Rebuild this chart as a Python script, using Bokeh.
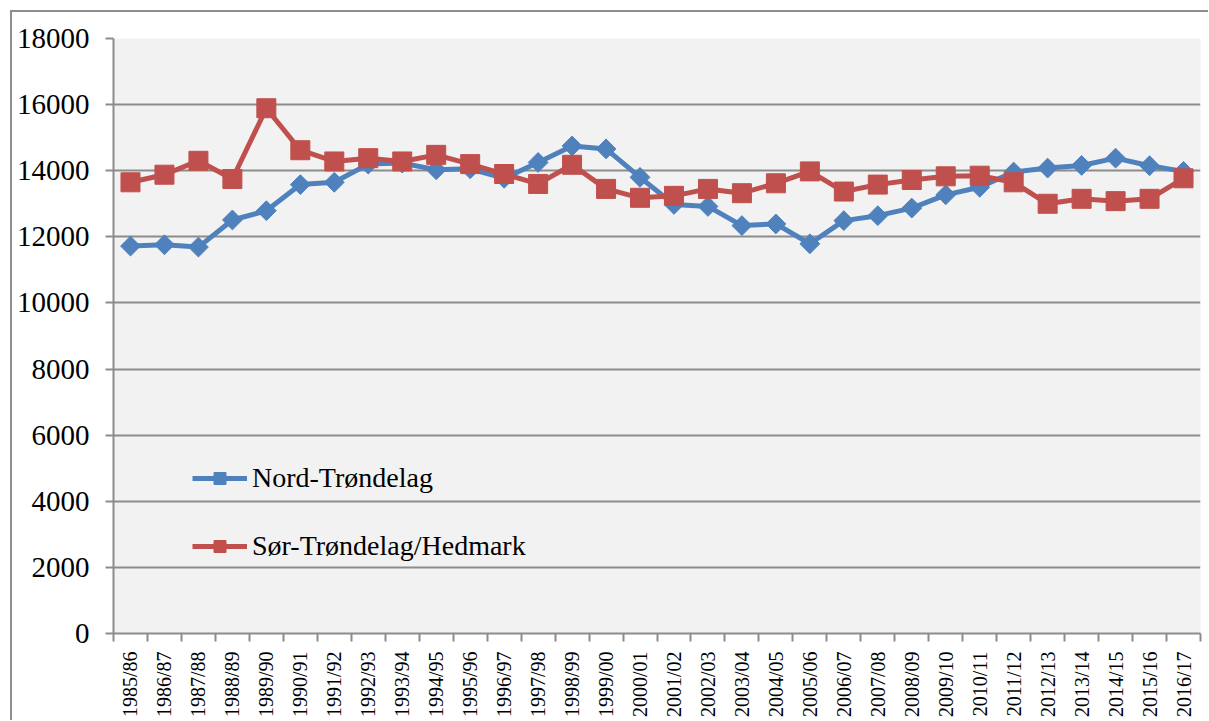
import math
from bokeh.plotting import figure
from bokeh.models import Range1d, FixedTicker, SingleIntervalTicker, Legend, LegendItem
from bokeh.embed import file_html
from bokeh.resources import INLINE

seasons = ["1985/86", "1986/87", "1987/88", "1988/89", "1989/90", "1990/91", "1991/92",
           "1992/93", "1993/94", "1994/95", "1995/96", "1996/97", "1997/98", "1998/99",
           "1999/00", "2000/01", "2001/02", "2002/03", "2003/04", "2004/05", "2005/06",
           "2006/07", "2007/08", "2008/09", "2009/10", "2010/11", "2011/12", "2012/13",
           "2013/14", "2014/15", "2015/16", "2016/17"]

nord_trondelag = [11720, 11760, 11690, 12510, 12790, 13580, 13650, 14200, 14230, 14030,
                  14060, 13770, 14250, 14750, 14660, 13800, 12980, 12920, 12340, 12390,
                  11790, 12490, 12640, 12870, 13270, 13500, 13960, 14080, 14160, 14380,
                  14150, 13980]

sor_trondelag_hedmark = [13650, 13880, 14300, 13750, 15890, 14620, 14280, 14380, 14280, 14480,
                         14200, 13900, 13600, 14180, 13450, 13180, 13240, 13450, 13320, 13620,
                         13980, 13370, 13580, 13720, 13830, 13850, 13650, 13000, 13150, 13080,
                         13150, 13770]

series_names = ["Nord-Trøndelag", "Sør-Trøndelag/Hedmark"]

BLUE = "#4F81BD"
RED = "#C0504D"
GRID = "#8C8C8C"
FONT = "'Liberation Serif', 'DejaVu Serif', serif"

x = list(range(len(seasons)))

p = figure(width=1208, height=720, output_backend="svg", toolbar_location=None,
           x_range=Range1d(-0.5, len(seasons) - 0.5), y_range=Range1d(0, 18000),
           min_border_left=113, min_border_top=38, min_border_right=8, min_border_bottom=85)

p.background_fill_color = "#F2F2F2"
p.border_fill_color = None
p.outline_line_color = None
p.styles = {"box-shadow": "inset 10px 10px 0 0 #ffffff, inset 12px 12px 0 0 #8E8E8E"}

# y axis
p.yaxis.ticker = SingleIntervalTicker(interval=2000, num_minor_ticks=0)
p.yaxis.axis_line_color = GRID
p.yaxis.axis_line_width = 2
p.yaxis.major_tick_line_color = GRID
p.yaxis.major_tick_line_width = 2
p.yaxis.major_tick_out = 8
p.yaxis.major_tick_in = 0
p.yaxis.minor_tick_line_color = None
p.yaxis.major_label_text_font = FONT
p.yaxis.major_label_text_font_size = "29px"
p.yaxis.major_label_text_color = "#000000"
p.yaxis.major_label_standoff = 16

# x axis: labels at category centres, ticks between categories
p.xaxis.ticker = FixedTicker(ticks=x, minor_ticks=[i - 0.5 for i in range(len(seasons) + 1)])
p.xaxis.major_label_overrides = {i: s for i, s in zip(x, seasons)}
p.xaxis.major_label_orientation = math.pi / 2
p.xaxis.major_label_text_font = FONT
p.xaxis.major_label_text_font_size = "20px"
p.xaxis.major_label_text_color = "#000000"
p.xaxis.major_label_standoff = 10
p.xaxis.axis_line_color = GRID
p.xaxis.axis_line_width = 2
p.xaxis.major_tick_line_color = None
p.xaxis.major_tick_out = 0
p.xaxis.major_tick_in = 0
p.xaxis.minor_tick_line_color = GRID
p.xaxis.minor_tick_line_width = 2
p.xaxis.minor_tick_out = 8
p.xaxis.minor_tick_in = 0

p.xgrid.grid_line_color = None
p.ygrid.grid_line_color = GRID
p.ygrid.grid_line_width = 2

l1 = p.line(x, nord_trondelag, line_color=BLUE, line_width=5, line_join="round")
m1 = p.scatter(x, nord_trondelag, marker="square", angle=math.pi / 4, size=14,
               fill_color=BLUE, line_color=BLUE)
l2 = p.line(x, sor_trondelag_hedmark, line_color=RED, line_width=5, line_join="round")
m2 = p.scatter(x, sor_trondelag_hedmark, marker="square", size=19,
               fill_color=RED, line_color=RED)

legend = Legend(items=[LegendItem(label=series_names[0], renderers=[l1, m1]),
                       LegendItem(label=series_names[1], renderers=[l2, m2])],
                location=(79, 71))
legend.padding = 0
legend.margin = 0
legend.spacing = 36
legend.label_height = 30
legend.glyph_height = 30
legend.glyph_width = 55
legend.label_standoff = 5
legend.label_text_font = FONT
legend.label_text_font_size = "28px"
legend.label_text_color = "#000000"
legend.background_fill_alpha = 0
legend.border_line_alpha = 0
p.add_layout(legend, "center")

open("out.html", "w").write(file_html(p, INLINE))
